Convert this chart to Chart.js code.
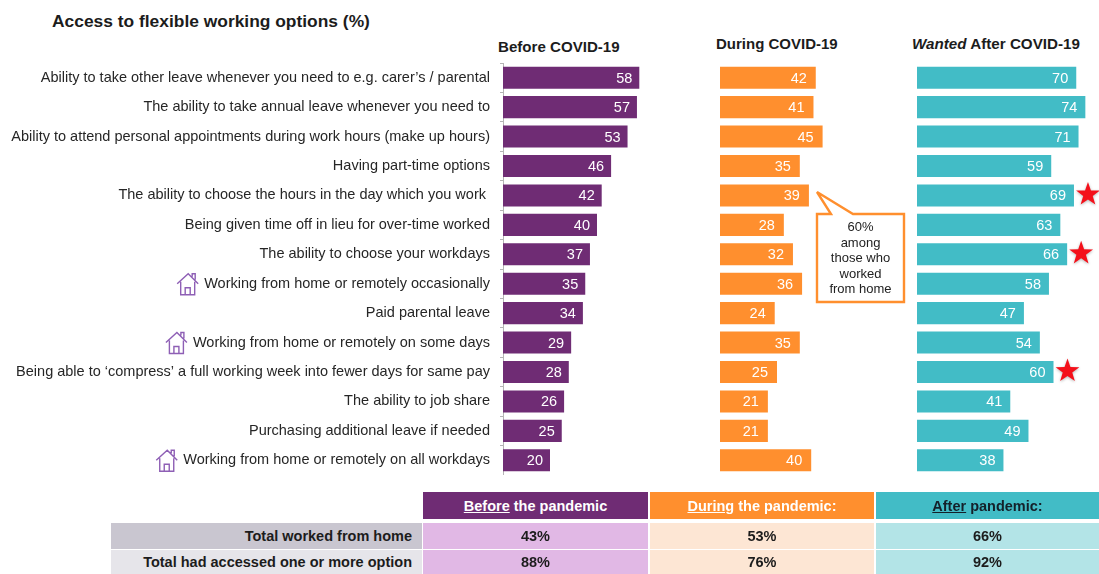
<!DOCTYPE html>
<html><head><meta charset="utf-8">
<script src="https://cdn.jsdelivr.net/npm/chart.js@4/dist/chart.umd.min.js"></script>
<style>
html,body{margin:0;padding:0;background:#fff;overflow:hidden}
body{width:1099px;height:574px;position:relative;font-family:"Liberation Sans",Arial,sans-serif;color:#1c1c1c}
canvas{position:absolute;display:block}
.h{position:absolute;font-weight:bold;white-space:nowrap}
.c{position:absolute;display:flex;align-items:center;justify-content:center;font-weight:bold;font-size:14.5px;white-space:pre;box-sizing:border-box}
svg{position:absolute;left:0;top:0}
</style></head><body>
<div class="h" style="left:52px;top:11px;font-size:17.4px">Access to flexible working options (%)</div>
<div class="h" style="left:498px;top:38px;font-size:15.1px">Before COVID-19</div>
<div class="h" style="left:716px;top:35px;font-size:15px">During COVID-19</div>
<div class="h" style="left:912px;top:35px;font-size:15.2px"><i>Wanted</i> After COVID-19</div>
<canvas id="c1" width="644" height="412" style="left:0;top:63px"></canvas>
<canvas id="c2" width="114" height="412" style="left:719.5px;top:63px"></canvas>
<canvas id="c3" width="182" height="412" style="left:917px;top:63px"></canvas>
<svg width="1099" height="574" style="pointer-events:none">
<path d="M817 192 L853 214 H904 V302 H817 V214 H831 Z" fill="#fff" stroke="#ff8f2e" stroke-width="2.4"/>
<g id="call" font-family="Liberation Sans, Arial, sans-serif" font-size="13" fill="#222" text-anchor="middle"></g>
</svg>
<div id="tbl"></div>
<script>
const categories=["Ability to take other leave whenever you need to e.g. carer’s / parental","The ability to take annual leave whenever you need to","Ability to attend personal appointments during work hours (make up hours)","Having part-time options","The ability to choose the hours in the day which you work ","Being given time off in lieu for over-time worked","The ability to choose your workdays","Working from home or remotely occasionally","Paid parental leave","Working from home or remotely on some days","Being able to ‘compress’ a full working week into fewer days for same pay","The ability to job share","Purchasing additional leave if needed","Working from home or remotely on all workdays"];
const beforeCovid=[58,57,53,46,42,40,37,35,34,29,28,26,25,20];
const duringCovid=[42,41,45,35,39,28,32,36,24,35,25,21,21,40];
const wantedAfter=[70,74,71,59,69,63,66,58,47,54,60,41,49,38];
const houseRows=[7,9,13];
const starRows=[4,6,10];
const calloutLines=["60%","among","those who","worked","from home"];
const tableHeads=["Before| the pandemic","During| the pandemic:","After| pandemic:"];
const tableRows=["Total worked from home","Total had accessed one or more option"];
const tableBefore=["43%","88%"];
const tableDuring=["53%","76%"];
const tableAfter=["66%","92%"];

const FONT='"Liberation Sans", Arial, sans-serif';
const valueLabels={id:'valueLabels',afterDatasetsDraw(ch,a,o){
  const ctx=ch.ctx,m=ch.getDatasetMeta(0);ctx.save();
  ctx.font='14.5px '+FONT;ctx.fillStyle='#fff';ctx.textAlign='right';ctx.textBaseline='middle';
  m.data.forEach((b,i)=>ctx.fillText(ch.data.datasets[0].data[i],b.x-o.pad,b.y+1));
  ctx.restore();
}};
const houses={id:'houses',afterDraw(ch){
  const ctx=ch.ctx,s=ch.scales.y;ctx.save();
  ctx.font='14.5px '+FONT;
  houseRows.forEach(i=>{
    const w=ctx.measureText(categories[i]).width;
    const r=s.right-3-10-w-6, y=s.getPixelForValue(i)+1, l=r-21;
    ctx.strokeStyle='#8e5fb5';ctx.lineWidth=1.4;ctx.beginPath();
    ctx.moveTo(l,y-1);ctx.lineTo(l+11,y-11);ctx.lineTo(r,y-1);
    ctx.moveTo(l+3.5,y-3);ctx.lineTo(l+3.5,y+10);ctx.lineTo(r-3.5,y+10);ctx.lineTo(r-3.5,y-3);
    ctx.moveTo(l+8,y+10);ctx.lineTo(l+8,y+3);ctx.lineTo(l+13,y+3);ctx.lineTo(l+13,y+10);
    ctx.moveTo(l+15,y-8);ctx.lineTo(l+15,y-11);ctx.lineTo(l+18,y-11);ctx.lineTo(l+18,y-5);
    ctx.stroke();
  });ctx.restore();
}};
const stars={id:'stars',afterDraw(ch){
  const ctx=ch.ctx,m=ch.getDatasetMeta(0);ctx.save();
  ctx.fillStyle='#f4101a';ctx.shadowColor='rgba(0,0,0,.3)';ctx.shadowBlur=3;ctx.shadowOffsetY=1;
  starRows.forEach(i=>{
    const b=m.data[i],cx=b.x+14,cy=b.y-1,R=12.5,r=5;
    ctx.beginPath();
    for(let k=0;k<10;k++){const a=-Math.PI/2+k*Math.PI/5,q=k%2?r:R;ctx.lineTo(cx+q*Math.cos(a),cy+q*Math.sin(a));}
    ctx.closePath();ctx.fill();
  });ctx.restore();
}};
function make(id,values,color,xmax,pad,first,extra){
  new Chart(document.getElementById(id),{type:'bar',
    data:{labels:categories,datasets:[{data:values,backgroundColor:color,borderWidth:0,barPercentage:.75,categoryPercentage:1}]},
    options:{indexAxis:'y',responsive:false,animation:false,devicePixelRatio:1,events:[],
      layout:{padding:0},
      plugins:{legend:{display:false},tooltip:{enabled:false},title:{display:false},valueLabels:{pad}},
      scales:{
        x:{display:false,min:0,max:xmax},
        y:{display:first,afterFit(s){if(first){s.width=503;s.paddingTop=0;s.paddingBottom=0;}},
          border:{display:true,color:'#b5b5b5'},
          grid:{drawOnChartArea:false,drawTicks:true,tickLength:3,color:'#b5b5b5'},
          ticks:{autoSkip:false,padding:10,color:'#262626',font:{family:FONT,size:14.5}}}
      }},
    plugins:[valueLabels].concat(extra)});
}
make('c1',beforeCovid,'#6f2c74',60,7,true,[houses]);
make('c2',duringCovid,'#ff8f2e',50,9,false,[]);
make('c3',wantedAfter,'#42bcc6',80,8,false,[stars]);

const ns='http://www.w3.org/2000/svg',g=document.getElementById('call');
calloutLines.forEach((t,i)=>{const e=document.createElementNS(ns,'text');e.setAttribute('x',860.5);e.setAttribute('y',231+i*15.5);e.textContent=t;g.appendChild(e);});

const tbl=document.getElementById('tbl');
function cell(x,y,w,h,bg,html,color,extra){
  const d=document.createElement('div');d.className='c';
  d.style.cssText=`left:${x}px;top:${y}px;width:${w}px;height:${h}px;background:${bg};color:${color};${extra||''}`;
  d.innerHTML='<span>'+html+'</span>';tbl.appendChild(d);
}
const colX=[423,650,876],colW=[225,224,223];
const headBg=['#6f2c74','#ff8f2e','#42bcc6'],headFg=['#fff','#fff','#14202a'];
const bodyBg=['#e1b8e5','#fde6d4','#b3e4e7'];
tableHeads.forEach((t,i)=>{const p=t.split('|');
  cell(colX[i],492,colW[i],27,headBg[i],`<u>${p[0]}</u>${p[1]}`,headFg[i]);});
const rowY=[523,550],rowH=[26,24],rowBg=['#c9c6d0','#e6e5ea'];
tableRows.forEach((t,r)=>{
  cell(111,rowY[r],311,rowH[r],rowBg[r],t,'#1c1c1c','justify-content:flex-end;padding-right:10px;');
  [tableBefore,tableDuring,tableAfter].forEach((col,i)=>cell(colX[i],rowY[r],colW[i],rowH[r],bodyBg[i],col[r],'#1c1c1c'));
});
</script>
</body></html>
